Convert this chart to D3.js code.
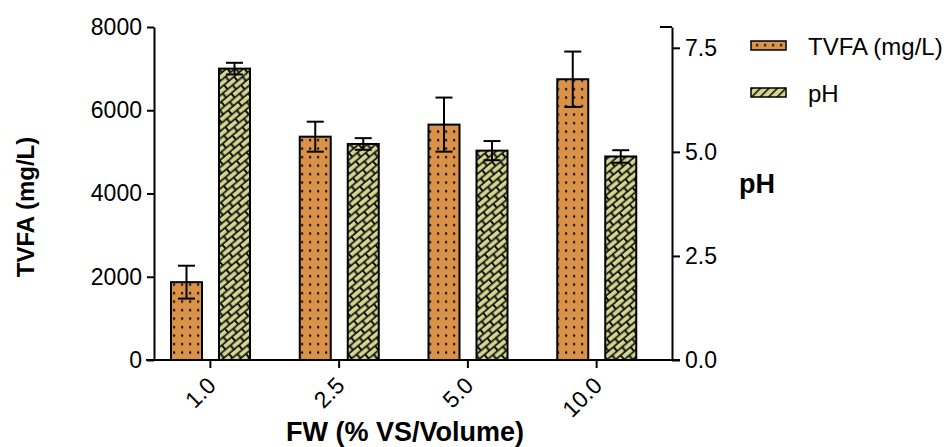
<!DOCTYPE html>
<html>
<head>
<meta charset="utf-8">
<script src="https://cdn.jsdelivr.net/npm/d3@7"></script>
<style>
  body { margin: 0; background: #fff; }
  svg { font-family: "Liberation Sans", Arial, sans-serif; }
</style>
</head>
<body>
<script>
// values
const groups = ["1.0", "2.5", "5.0", "10.0"];
const series = ["TVFA (mg/L)", "pH"];
const tvfa = [1870, 5365, 5655, 6745];
const tvfaErr = [395, 360, 650, 665];
const ph = [7.0, 5.19, 5.03, 4.89];
const phErr = [0.14, 0.14, 0.23, 0.15];
const leftTicks = [0, 2000, 4000, 6000, 8000];
const rightTicks = [0, 2.5, 5.0, 7.5];

const width = 949, height = 447;
const plotTop = 27, plotBottom = 360;

const svg = d3.select("body").append("svg")
  .attr("width", width)
  .attr("height", height);

const defs = svg.append("defs");

// orange with dots
const dots = defs.append("pattern")
  .attr("id", "dots")
  .attr("patternUnits", "userSpaceOnUse")
  .attr("width", 8).attr("height", 8.5)
  .attr("x", 2).attr("y", 0);
dots.append("rect").attr("width", 8).attr("height", 8.5).attr("fill", "#DA9248");
dots.append("rect").attr("x", 3).attr("y", 3).attr("width", 2.2).attr("height", 2.2).attr("fill", "#111");

// yellow-green bricks laid diagonally
const brick = defs.append("pattern")
  .attr("id", "brick")
  .attr("patternUnits", "userSpaceOnUse")
  .attr("width", 13).attr("height", 11)
  .attr("patternTransform", "rotate(-40)");
brick.append("rect").attr("width", 13).attr("height", 11).attr("fill", "#111");
brick.append("rect").attr("x", 1).attr("y", 1).attr("width", 11).attr("height", 3.8).attr("fill", "#D5D690");
brick.append("rect").attr("x", 7.5).attr("y", 6.5).attr("width", 11).attr("height", 3.8).attr("fill", "#D5D690");
brick.append("rect").attr("x", -5.5).attr("y", 6.5).attr("width", 11).attr("height", 3.8).attr("fill", "#D5D690");

const hatch = defs.append("pattern")
  .attr("id", "hatch")
  .attr("patternUnits", "userSpaceOnUse")
  .attr("width", 6).attr("height", 6)
  .attr("patternTransform", "rotate(45)");
hatch.append("rect").attr("width", 6).attr("height", 6).attr("fill", "#D5D690");
hatch.append("rect").attr("width", 1.6).attr("height", 6).attr("fill", "#111");

const x = d3.scaleBand().domain(groups).range([146, 661]);
const x1 = d3.scaleBand().domain(series).range([25, 104]).paddingInner(0.354);
const y = d3.scaleLinear().domain([0, 8000]).range([plotBottom, plotTop]);
const y2 = d3.scaleLinear().domain([0, 8]).range([plotBottom, plotTop]);

// bars
const rows = groups.map((g, i) => ({g, i}));
const gBars = svg.append("g");

function drawSeries(key, vals, errs, scale, fill) {
  const s = gBars.append("g");
  s.selectAll("rect")
    .data(rows)
    .enter()
    .append("rect")
    .attr("x", d => x(d.g) + x1(key))
    .attr("y", d => scale(vals[d.i]))
    .attr("width", x1.bandwidth())
    .attr("height", d => plotBottom - scale(vals[d.i]))
    .attr("fill", fill)
    .attr("stroke", "#000")
    .attr("stroke-width", 2);

  const cx = d => x(d.g) + x1(key) + x1.bandwidth() / 2;
  s.selectAll("line.err")
    .data(rows)
    .enter()
    .append("line")
    .attr("x1", cx).attr("x2", cx)
    .attr("y1", d => scale(vals[d.i] + errs[d.i]))
    .attr("y2", d => scale(vals[d.i] - errs[d.i]))
    .attr("stroke", "#000").attr("stroke-width", 2);
  [1, -1].forEach(sign => {
    s.selectAll("line.cap" + sign)
      .data(rows)
      .enter()
      .append("line")
      .attr("x1", d => cx(d) - 8.5).attr("x2", d => cx(d) + 8.5)
      .attr("y1", d => scale(vals[d.i] + sign * errs[d.i]))
      .attr("y2", d => scale(vals[d.i] + sign * errs[d.i]))
      .attr("stroke", "#000").attr("stroke-width", 2);
  });
}

drawSeries(series[0], tvfa, tvfaErr, y, "url(#dots)");
drawSeries(series[1], ph, phErr, y2, "url(#brick)");

// axes
const axisLeft = svg.append("g")
  .attr("transform", "translate(154,0)")
  .call(d3.axisLeft(y).tickValues(leftTicks).tickFormat(d3.format("d"))
    .tickSize(7).tickPadding(5).tickSizeOuter(0));

const axisRight = svg.append("g")
  .attr("transform", "translate(672,0)")
  .call(d3.axisRight(y2).tickValues(rightTicks).tickFormat(d3.format(".1f"))
    .tickSize(8).tickPadding(5).tickSizeOuter(0));

const axisBottom = svg.append("g")
  .attr("transform", `translate(0,${plotBottom})`)
  .call(d3.axisBottom(x).tickSize(8).tickSizeOuter(0));

axisBottom.select(".domain").attr("d", "M146,0H680");
axisRight.append("line")
  .attr("x1", -12).attr("x2", 0)
  .attr("y1", plotTop).attr("y2", plotTop)
  .attr("stroke", "#000").attr("stroke-width", 2);

[axisLeft, axisRight, axisBottom].forEach(a => {
  a.selectAll(".domain").attr("stroke-width", 2);
  a.selectAll(".tick line").attr("stroke-width", 2);
  a.selectAll("text")
    .attr("font-size", 23)
    .attr("font-family", "Liberation Sans, Arial, sans-serif")
    .attr("fill", "#000");
});

axisBottom.selectAll(".tick text")
  .attr("text-anchor", "end")
  .attr("dy", null)
  .attr("y", 0)
  .attr("transform", "translate(7,27) rotate(-45)");

// titles
svg.append("text")
  .attr("transform", "translate(34,207) rotate(-90)")
  .attr("text-anchor", "middle")
  .attr("font-size", 24)
  .attr("font-weight", "bold")
  .text("TVFA (mg/L)");

svg.append("text")
  .attr("x", 739).attr("y", 193)
  .attr("font-size", 27)
  .attr("font-weight", "bold")
  .text("pH");

svg.append("text")
  .attr("x", 405).attr("y", 441)
  .attr("text-anchor", "middle")
  .attr("font-size", 27)
  .attr("font-weight", "bold")
  .text("FW (% VS/Volume)");

// legend
const legend = svg.append("g");
const legFills = ["url(#dots)", "url(#hatch)"];
const leg = legend.selectAll("g")
  .data(series)
  .enter()
  .append("g")
  .attr("transform", (d, i) => `translate(751,${41 + i * 47})`);
leg.append("rect")
  .attr("width", 35).attr("height", 9)
  .attr("fill", (d, i) => legFills[i])
  .attr("stroke", "#000").attr("stroke-width", 1.5);
leg.append("text")
  .attr("x", 57).attr("y", 14)
  .attr("font-size", 24)
  .text(d => d);
</script>
</body>
</html>
